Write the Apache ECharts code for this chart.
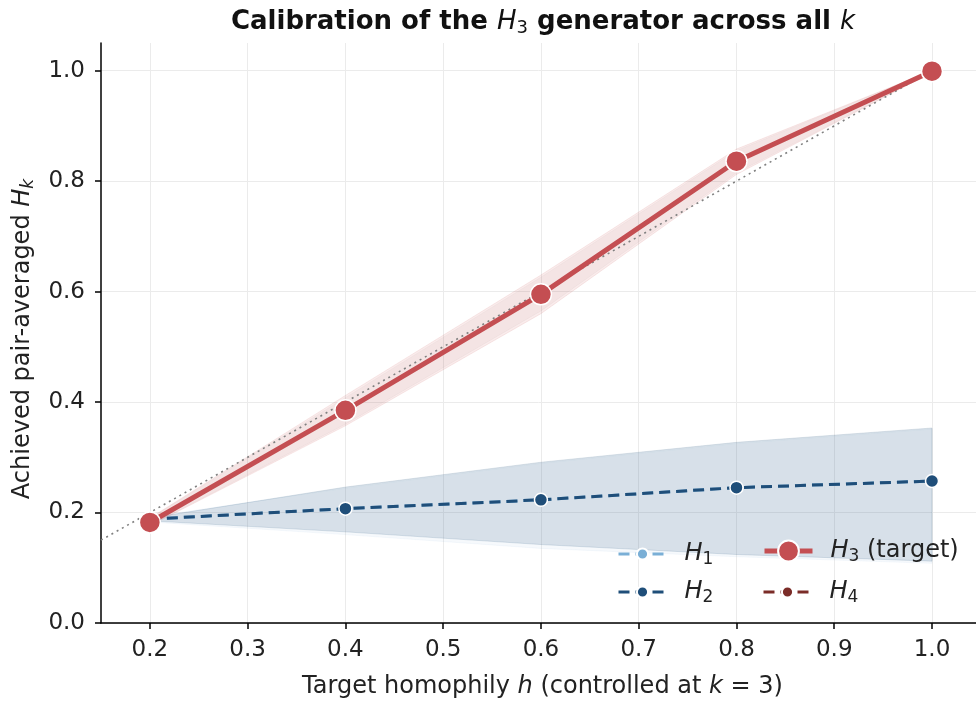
<!DOCTYPE html>
<html>
<head>
<meta charset="utf-8">
<script src="https://cdn.jsdelivr.net/npm/echarts@6/dist/echarts.min.js"></script>
<style>
  html, body { margin: 0; padding: 0; background: #fff; }
  #chart { width: 976px; height: 704px; }
</style>
</head>
<body>
<div id="chart"></div>
<script>
// target homophily values (x)
const targetH = [0.2, 0.4, 0.6, 0.8, 1.0]
const xTicks = [0.2, 0.3, 0.4, 0.5, 0.6, 0.7, 0.8, 0.9, 1.0]
const yTicks = [0.0, 0.2, 0.4, 0.6, 0.8, 1.0]

// achieved H_k per order k (mean + band)
const h1Mean = [0.188, 0.207, 0.223, 0.245, 0.257]
const h1Low = [0.183, 0.160, 0.135, 0.120, 0.108]
const h1High = [0.192, 0.244, 0.289, 0.325, 0.351]

const h2Mean = [0.188, 0.207, 0.223, 0.245, 0.257]
const h2Low = [0.185, 0.165, 0.142, 0.124, 0.112]
const h2High = [0.190, 0.246, 0.291, 0.327, 0.353]

const h3Mean = [0.182, 0.385, 0.595, 0.836, 0.999]
const h3Low = [0.176, 0.357, 0.560, 0.812, 0.997]
const h3High = [0.190, 0.412, 0.630, 0.858, 1.000]

const h4Mean = [0.182, 0.385, 0.595, 0.836, 0.999]
const h4Low = [0.177, 0.360, 0.565, 0.815, 0.997]
const h4High = [0.189, 0.408, 0.626, 0.855, 1.000]

// y = x reference line
const diagX = [0.15, 1.0]

const colors = {
  h1: '#7aafd6',
  h2: '#1f4e79',
  h3: '#c44e52',
  h4: '#7b2c28'
}

const font = 'DejaVu Sans'
const pairs = (ys) => targetH.map((x, i) => [x, ys[i]])

// shaded band between low and high, drawn as one polygon through the axes
function band(low, high, color, opacity) {
  return {
    type: 'custom', silent: true, z: 1,
    data: [[0.5, 0.5]],
    renderItem: (params, api) => {
      const top = targetH.map((x, i) => api.coord([x, high[i]]))
      const bottom = targetH.map((x, i) => api.coord([x, low[i]])).reverse()
      return {
        type: 'polygon',
        shape: { points: top.concat(bottom) },
        style: { fill: color, opacity: opacity, stroke: color, lineWidth: 1 }
      }
    }
  }
}

const chart = echarts.init(document.getElementById('chart'), null, { renderer: 'canvas' })

const richText = (size, color, extra) => ({
  i: Object.assign({ fontFamily: font, fontStyle: 'italic', fontSize: size, color: color }, extra || {}),
  s: Object.assign({ fontFamily: font, fontSize: Math.round(size * 0.7), color: color, padding: [12, 0, 0, 0] }, extra || {}),
  si: { fontFamily: font, fontStyle: 'italic', fontSize: Math.round(size * 0.7), color: color, padding: [12, 0, 0, 0] }
})

const legendText = {
  H1: '{i|H}{s|1}', H2: '{i|H}{s|2}', H3: '{i|H}{s|3} (target)', H4: '{i|H}{s|4}'
}

function legendAt(name, left, top, h, lw) {
  return {
    data: [name], left: left, top: top,
    itemWidth: 48, itemHeight: h,
    formatter: (n) => legendText[n],
    selectedMode: false,
    lineStyle: { width: lw },
    textStyle: {
      fontFamily: font, fontSize: 24, color: '#222',
      padding: [0, 0, 0, 13],
      rich: richText(24, '#222')
    }
  }
}

const option = {
  animation: false,
  backgroundColor: '#fff',
  title: {
    text: 'Calibration of the {i|H}{s|3} generator across all {i|k}',
    left: 538, top: 2, textAlign: 'center',
    textStyle: {
      fontFamily: font, fontSize: 26, fontWeight: 'bold', color: '#111',
      rich: richText(26, '#111', { fontWeight: 'normal' })
    }
  },
  legend: [
    legendAt('H1', 612, 537, 14, 3),
    legendAt('H2', 612, 575, 14, 3),
    legendAt('H3', 757, 534, 26, 5),
    legendAt('H4', 757, 575, 14, 3)
  ],
  grid: { left: 101, top: 43, width: 875, height: 584 },
  xAxis: {
    type: 'value', min: 0.15, max: 1.045,
    name: 'Target homophily {i|h} (controlled at {i|k} = 3)',
    nameLocation: 'middle', nameGap: 52,
    nameTextStyle: {
      fontFamily: font, fontSize: 24, color: '#222',
      padding: [0, 0, 0, 8],
      rich: richText(24, '#222')
    },
    axisLine: { lineStyle: { color: '#000', width: 1.5 } },
    axisTick: { customValues: xTicks, length: 6, lineStyle: { color: '#000', width: 1.5 } },
    axisLabel: {
      customValues: xTicks, margin: 16,
      fontFamily: font, fontSize: 23, color: '#222',
      formatter: (v) => v.toFixed(1)
    },
    splitLine: { show: true, customValues: xTicks, lineStyle: { color: '#ebebeb', width: 1 } }
  },
  yAxis: {
    type: 'value', min: 0, max: 1.05,
    name: 'Achieved pair-averaged {i|H}{si|k}',
    nameLocation: 'middle', nameGap: 64,
    nameTextStyle: {
      fontFamily: font, fontSize: 24, color: '#222',
      padding: [0, 12, 0, 0],
      rich: richText(24, '#222')
    },
    axisLine: { show: true, lineStyle: { color: '#000', width: 1.5 } },
    axisTick: { show: true, customValues: yTicks, length: 6, lineStyle: { color: '#000', width: 1.5 } },
    axisLabel: {
      customValues: yTicks, margin: 16,
      fontFamily: font, fontSize: 23, color: '#222',
      formatter: (v) => v.toFixed(1)
    },
    splitLine: { show: true, customValues: yTicks, lineStyle: { color: '#ebebeb', width: 1 } }
  },
  series: [
    band(h1Low, h1High, colors.h1, 0.07),
    band(h2Low, h2High, colors.h2, 0.14),
    band(h4Low, h4High, colors.h4, 0.04),
    band(h3Low, h3High, colors.h3, 0.11),
    {
      name: 'diag', type: 'line', silent: true, symbol: 'none',
      data: diagX.map((x) => [x, x]),
      lineStyle: { color: '#808080', width: 1.6, type: [2, 4] },
      z: 3
    },
    {
      name: 'H1', type: 'line', data: pairs(h1Mean),
      symbol: 'circle', symbolSize: 12,
      itemStyle: { color: colors.h1, borderColor: '#fff', borderWidth: 1.5 },
      lineStyle: { color: colors.h1, width: 3, type: [11, 6] },
      z: 4
    },
    {
      name: 'H2', type: 'line', data: pairs(h2Mean),
      symbol: 'circle', symbolSize: 13,
      itemStyle: { color: colors.h2, borderColor: '#fff', borderWidth: 1.5 },
      lineStyle: { color: colors.h2, width: 3, type: [11, 6] },
      z: 5
    },
    {
      name: 'H4', type: 'line', data: pairs(h4Mean),
      symbol: 'circle', symbolSize: 12,
      itemStyle: { color: colors.h4, borderColor: '#fff', borderWidth: 1.5 },
      lineStyle: { color: colors.h4, width: 3, type: [11, 6] },
      z: 5
    },
    {
      name: 'H3', type: 'line', data: pairs(h3Mean),
      symbol: 'circle', symbolSize: 21,
      itemStyle: { color: colors.h3, borderColor: '#fff', borderWidth: 1.5 },
      lineStyle: { color: colors.h3, width: 5 },
      z: 6
    }
  ]
}

chart.setOption(option)
</script>
</body>
</html>
